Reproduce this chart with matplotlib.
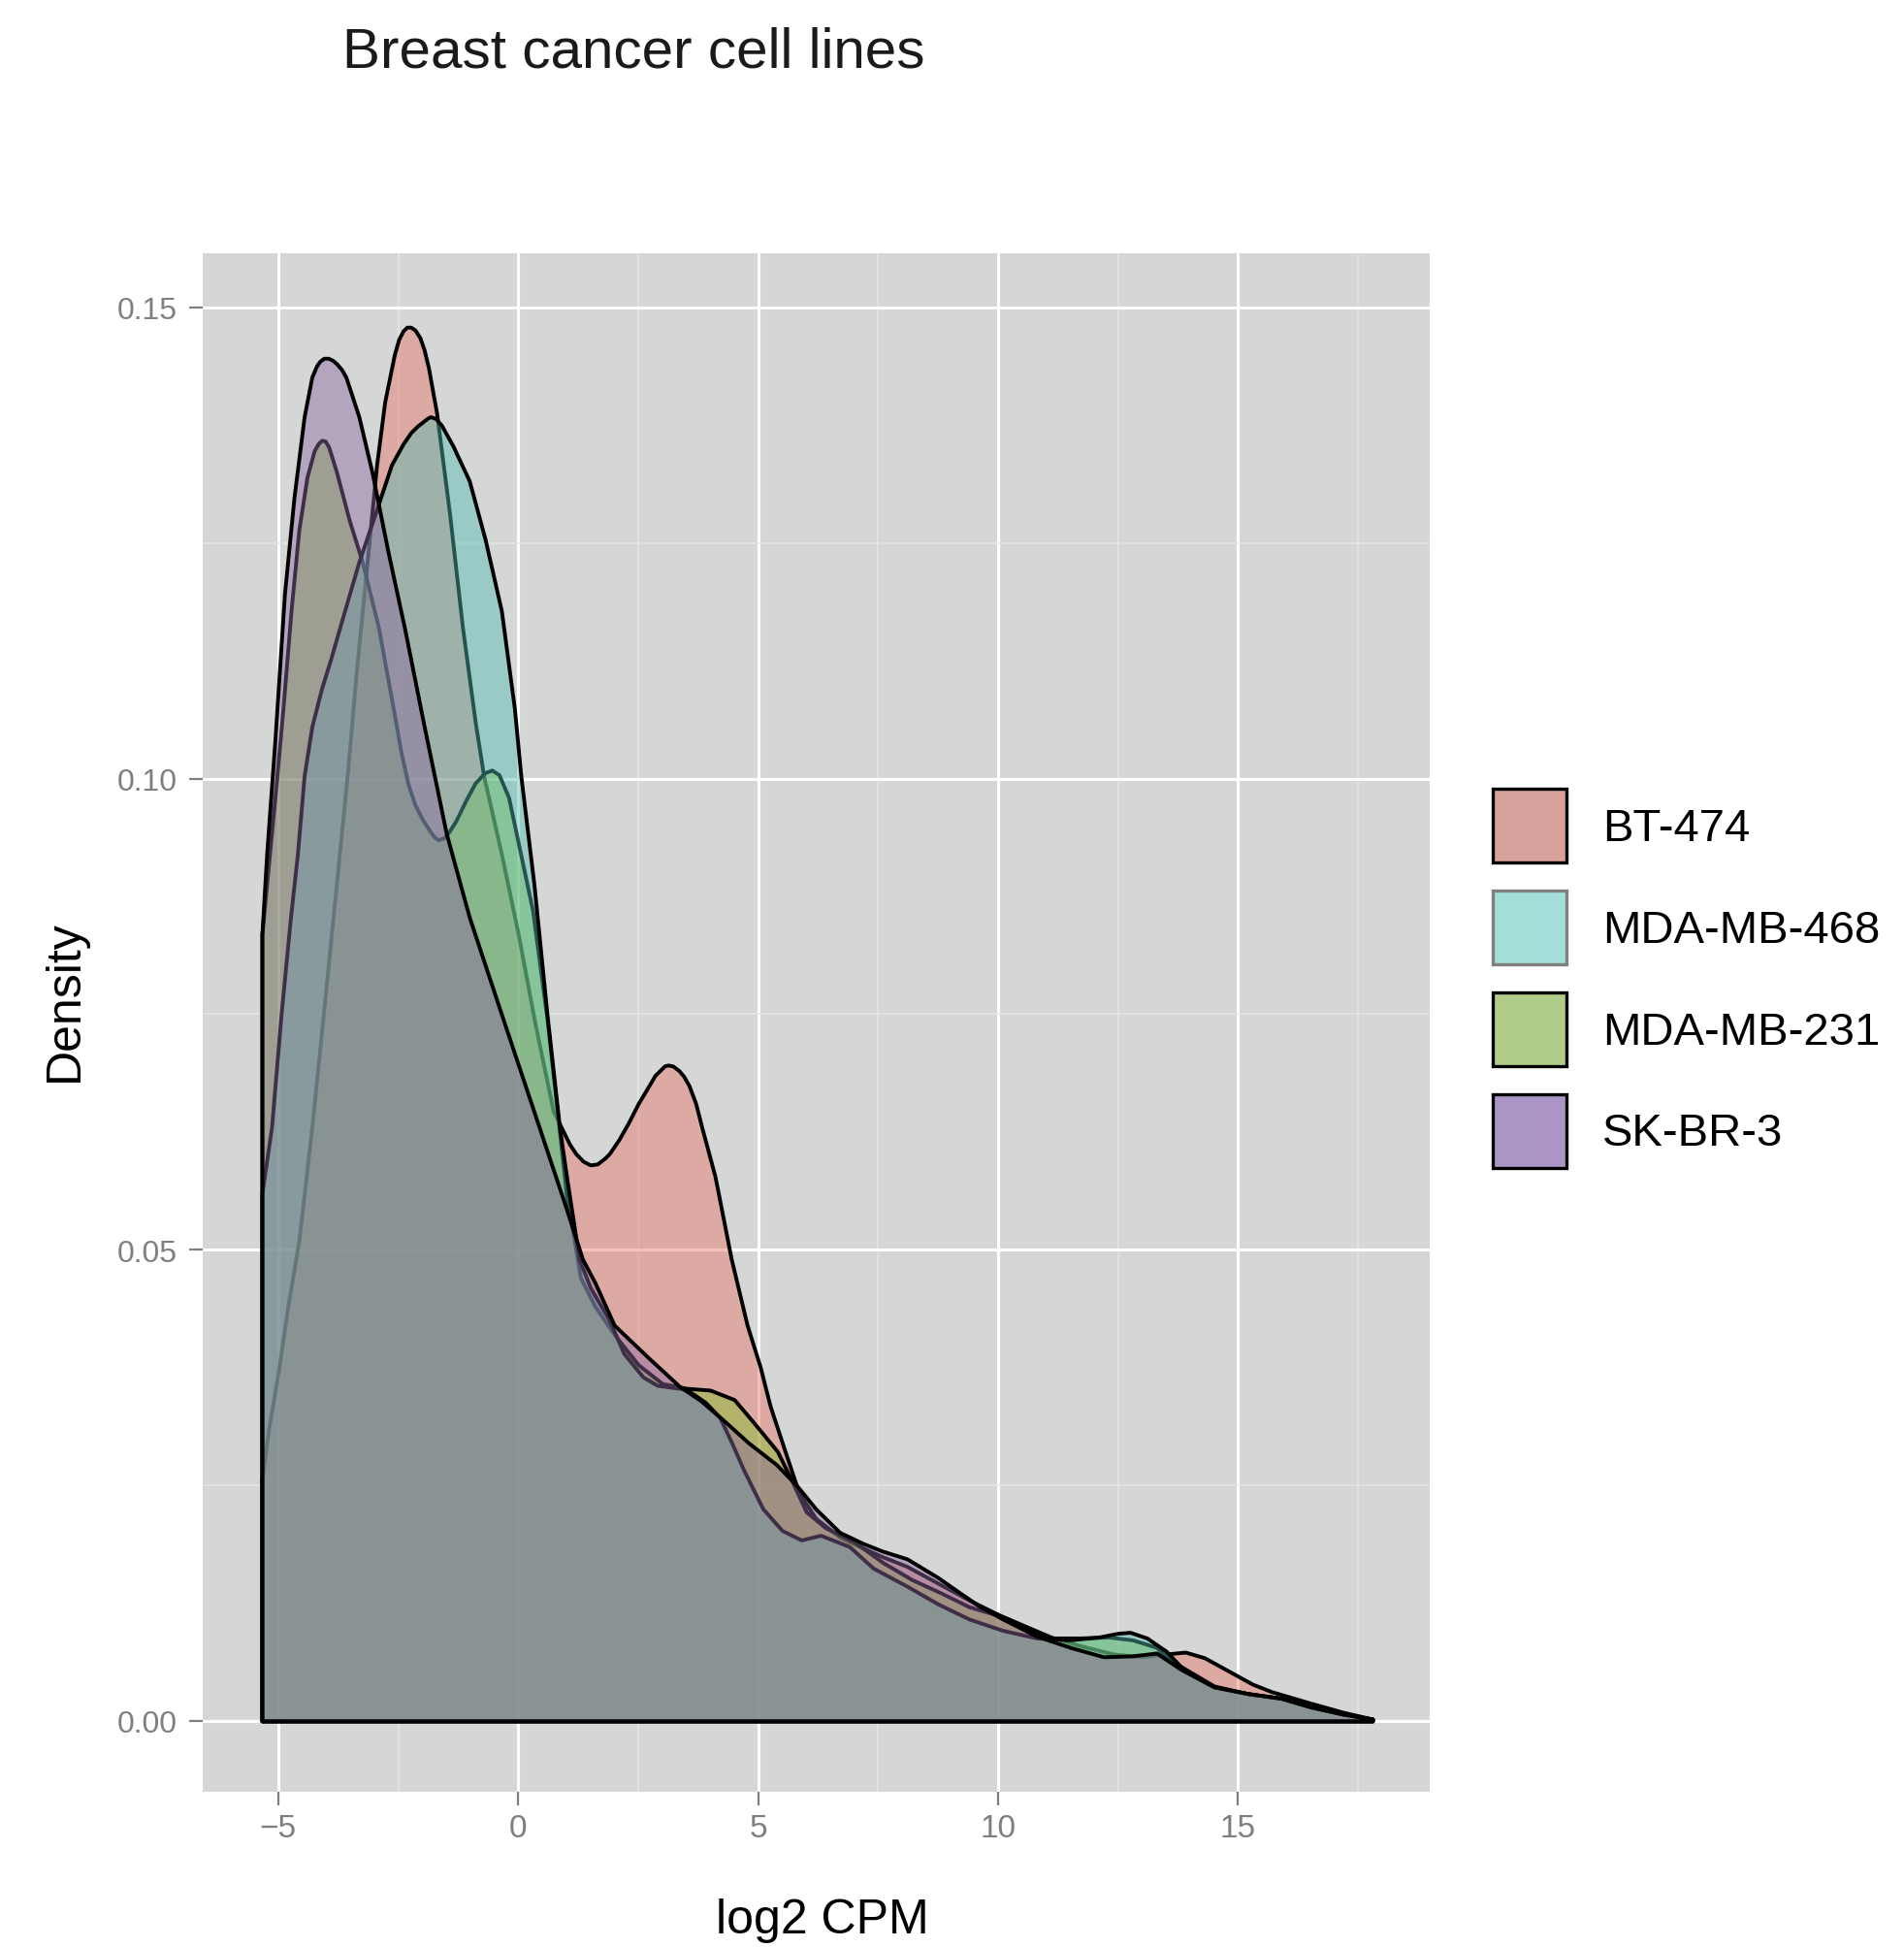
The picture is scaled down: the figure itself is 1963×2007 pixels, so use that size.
import matplotlib
matplotlib.use('Agg')
import matplotlib.pyplot as plt
from matplotlib.colors import to_rgba
from matplotlib.patches import Patch
from matplotlib.ticker import MultipleLocator, FixedFormatter

plt.rcParams['font.family'] = ['Liberation Sans', 'DejaVu Sans']

# density curves (log2 CPM, density)
bt474_x = [-5.34, -5.2, -5.0, -4.8, -4.57, -4.3, -4.06, -3.79, -3.55, -3.38,
           -3.18, -2.95, -2.78, -2.58, -2.49, -2.4, -2.32, -2.24, -2.15, -2.05,
           -1.96, -1.87, -1.7, -1.43, -1.16, -0.89, -0.72, -0.35, 0.0, 0.35,
           0.73, 1.07, 1.2, 1.35, 1.5, 1.65, 1.8, 1.9, 2.1, 2.3,
           2.5, 2.7, 2.85, 2.95, 3.05, 3.12, 3.22, 3.35, 3.45, 3.56,
           3.7, 3.83, 4.1, 4.44, 4.77, 5.04, 5.25, 5.58, 5.85, 6.2,
           6.7, 7.2, 7.6, 8.1, 8.75, 9.4, 10.0, 10.5, 11.1, 11.7,
           12.4, 13.0, 13.5, 13.9, 14.3, 14.8, 15.3, 15.7, 16.5, 17.2, 17.8]
bt474_y = [0.0257, 0.031, 0.037, 0.044, 0.051, 0.063, 0.075, 0.0887, 0.101, 0.111,
           0.1213, 0.1333, 0.140, 0.145, 0.1466, 0.1475, 0.1479, 0.1479, 0.1476, 0.1468,
           0.1455, 0.1436, 0.1388, 0.1281, 0.116, 0.1058, 0.1003, 0.092, 0.0835, 0.074,
           0.0647, 0.0612, 0.0602, 0.0594, 0.059, 0.0591, 0.0597, 0.0602, 0.0617, 0.0635,
           0.0655, 0.0672, 0.0685, 0.069, 0.0695, 0.0696, 0.0695, 0.069, 0.0684, 0.0674,
           0.0655, 0.0629, 0.0578, 0.049, 0.042, 0.0376, 0.0334, 0.0283, 0.0242, 0.0215,
           0.0195, 0.0183, 0.0174, 0.0164, 0.0146, 0.0128, 0.0113, 0.0102, 0.0089, 0.0080,
           0.0071, 0.0068, 0.0071, 0.0073, 0.0067, 0.0053, 0.0039, 0.0031, 0.0019, 0.0009, 0.0002]

mb468_x = [-5.34, -5.14, -4.94, -4.75, -4.6, -4.46, -4.3, -4.1, -3.9, -3.72,
           -3.32, -2.98, -2.64, -2.4, -2.24, -2.1, -2.0, -1.9, -1.83, -1.72,
           -1.6, -1.36, -1.02, -0.69, -0.35, -0.08, 0.055, 0.33, 0.6, 0.86,
           1.0, 1.27, 1.5, 1.9, 2.2, 2.6, 2.9, 3.5, 3.9, 4.2,
           4.45, 4.7, 5.1, 5.5, 5.9, 6.3, 6.9, 7.4, 8.1, 8.75,
           9.4, 10.1, 10.8, 11.5, 12.1, 12.5, 12.75, 13.1, 13.5, 13.8,
           14.5, 15.2, 15.9, 16.5, 17.2, 17.8]
mb468_y = [0.056, 0.063, 0.075, 0.085, 0.092, 0.1003, 0.1055, 0.1095, 0.1128, 0.116,
           0.123, 0.1281, 0.1333, 0.1355, 0.1367, 0.1374, 0.1378, 0.1382, 0.1384, 0.1382,
           0.1375, 0.1353, 0.1316, 0.1254, 0.1178, 0.1075, 0.1003, 0.0887, 0.075, 0.063,
           0.058, 0.049, 0.046, 0.0425, 0.039, 0.0365, 0.0356, 0.0352, 0.0338, 0.0322,
           0.0295, 0.0266, 0.0225, 0.0202, 0.0192, 0.0197, 0.0185, 0.0162, 0.0143, 0.0124,
           0.0108, 0.0096, 0.0088, 0.0086, 0.0089, 0.0093, 0.0094, 0.0088, 0.0074, 0.0058,
           0.0037, 0.0029, 0.0024, 0.0015, 0.0007, 0.0002]

mb231_x = [-5.34, -5.2, -5.05, -4.9, -4.73, -4.57, -4.4, -4.25, -4.16, -4.09,
           -4.02, -3.95, -3.79, -3.52, -3.25, -2.91, -2.75, -2.58, -2.45, -2.3,
           -2.15, -2.0, -1.85, -1.75, -1.67, -1.55, -1.45, -1.3, -1.1, -0.9,
           -0.7, -0.55, -0.4, -0.2, 0.05, 0.3, 0.6, 0.86, 1.0, 1.3,
           1.6, 2.0, 2.5, 3.0, 3.5, 4.0, 4.5, 4.9, 5.4, 5.7,
           6.0, 6.4, 7.0, 7.6, 8.2, 8.8, 9.4, 10.0, 10.5, 11.1,
           11.7, 12.3, 12.8, 13.3, 13.8, 14.5, 15.2, 15.9, 16.5, 17.2, 17.8]
mb231_y = [0.0835, 0.091, 0.099, 0.1075, 0.118, 0.1264, 0.132, 0.1348, 0.1356, 0.1359,
           0.1358, 0.1352, 0.1326, 0.1274, 0.123, 0.116, 0.1115, 0.1068, 0.103, 0.0995,
           0.0972, 0.0957, 0.0945, 0.0938, 0.0935, 0.0937, 0.0943, 0.0955, 0.0976, 0.0995,
           0.1006, 0.1009, 0.1004, 0.098, 0.092, 0.086, 0.0745, 0.0625, 0.056, 0.047,
           0.044, 0.041, 0.0378, 0.0358, 0.0353, 0.0351, 0.0341, 0.0317, 0.0286, 0.0255,
           0.0222, 0.0205, 0.0190, 0.0168, 0.0150, 0.0136, 0.0121, 0.0112, 0.0100, 0.0088,
           0.0088, 0.0089, 0.0086, 0.0078, 0.0055, 0.0036, 0.0029, 0.0024, 0.0015, 0.0007, 0.0002]

skbr3_x = [-5.34, -5.24, -5.07, -4.87, -4.67, -4.46, -4.3, -4.2, -4.13, -4.05,
           -3.96, -3.87, -3.78, -3.68, -3.59, -3.32, -3.05, -2.71, -2.37, -1.97,
           -1.5, -1.02, -0.35, 0.325, 1.0, 1.34, 1.6, 2.0, 2.7, 3.36,
           3.8, 4.3, 4.8, 5.38, 5.8, 6.2, 6.7, 7.2, 7.6, 8.1,
           8.75, 9.2, 9.6, 10.1, 10.8, 11.5, 12.2, 12.8, 13.3, 13.8,
           14.5, 15.2, 15.9, 16.5, 17.2, 17.8]
skbr3_y = [0.0835, 0.0921, 0.104, 0.1196, 0.1299, 0.1384, 0.1426, 0.1438, 0.1443, 0.1446,
           0.1446, 0.1444, 0.1440, 0.1434, 0.1426, 0.1384, 0.1326, 0.124, 0.116, 0.1058,
           0.0942, 0.0853, 0.075, 0.0647, 0.0544, 0.049, 0.0465, 0.042, 0.0386, 0.0355,
           0.034, 0.0318, 0.0295, 0.0272, 0.025, 0.0225, 0.0200, 0.0188, 0.0180, 0.0172,
           0.0152, 0.0136, 0.0122, 0.0108, 0.0090, 0.0078, 0.0068, 0.0069, 0.0072, 0.0055,
           0.0036, 0.0029, 0.0024, 0.0015, 0.0007, 0.0002]

# legend order as printed; the layers are stacked in alphabetical order
labels = ['BT-474', 'MDA-MB-468', 'MDA-MB-231', 'SK-BR-3']
fill_cols = {'BT-474': '#e77565', 'MDA-MB-468': '#54bcb2',
             'MDA-MB-231': '#82be29', 'SK-BR-3': '#8c68a1'}
key_cols = ['#d8a09a', '#a4ded9', '#b0cc88', '#ab95c6']
key_edges = ['black', '#808080', 'black', 'black']
xticks = [-5, 0, 5, 10, 15]
yticks = [0.0, 0.05, 0.10, 0.15]
ytick_labels = ['0.00', '0.05', '0.10', '0.15']

curves = {'BT-474': (bt474_x, bt474_y), 'MDA-MB-468': (mb468_x, mb468_y),
          'MDA-MB-231': (mb231_x, mb231_y), 'SK-BR-3': (skbr3_x, skbr3_y)}

fig = plt.figure(figsize=(19.63, 20.08), dpi=100)
ax = fig.add_axes([0.1063, 0.0798, 0.6445, 0.7895])
ax.set_facecolor('#d5d7d6')

for i, name in enumerate(sorted(curves)):
    xs, ys = curves[name]
    ax.fill_between(xs, ys, 0, facecolor=to_rgba(fill_cols[name], 0.45),
                    edgecolor='black', linewidth=2.8, joinstyle='round', zorder=2 + i)

ax.set_xlim(-6.58, 18.99)
ax.set_ylim(-0.0075, 0.1557)
ax.set_xticks(xticks)
ax.set_yticks(yticks)
ax.yaxis.set_major_formatter(FixedFormatter(ytick_labels))
ax.xaxis.set_minor_locator(MultipleLocator(2.5))
ax.yaxis.set_minor_locator(MultipleLocator(0.025))
ax.set_axisbelow(True)
ax.grid(which='major', color='white', linewidth=2.2)
ax.grid(which='minor', color='#e4e5e4', linewidth=1.1)
ax.tick_params(which='major', length=10, width=1.6, color='#7f7f7f',
               labelcolor='#7f7f7f')
ax.tick_params(axis='y', pad=9, labelsize=23)
ax.tick_params(axis='x', pad=6, labelsize=24)
ax.tick_params(which='minor', length=0)
for s in ax.spines.values():
    s.set_visible(False)

ax.set_xlabel('log2 CPM', fontsize=36, va='center')
ax.xaxis.set_label_coords(0.505, -0.0834)
ax.set_ylabel('Density', fontsize=36, va='center')
ax.yaxis.set_label_coords(-0.112, 0.515)

fig.text(0.18, 0.973, 'Breast cancer cell lines', fontsize=42, va='center', ha='left',
         color='#1a1a1a')

handles = [Patch(facecolor=key_cols[i], edgecolor=key_edges[i], linewidth=2.4)
           for i in range(len(labels))]
fig.legend(handles, labels, loc='upper left', bbox_to_anchor=(0.784, 0.5946),
           frameon=False, fontsize=34, handlelength=1.61, handleheight=2.1,
           labelspacing=0.61, handletextpad=0.78, borderpad=0, borderaxespad=0)

fig.savefig('out.png', dpi=100)
